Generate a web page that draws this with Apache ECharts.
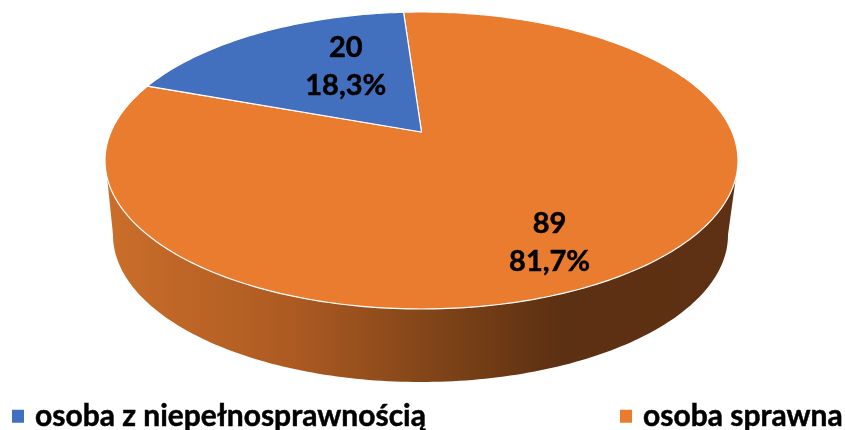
<!DOCTYPE html>
<html>
<head>
    <meta charset="utf-8">
    <title>ECharts</title>
    <script src="https://cdn.jsdelivr.net/npm/echarts@6/dist/echarts.min.js"></script>
    <style>
        html, body { margin: 0; padding: 0; background: #fff; }
    </style>
</head>
<body>
    <div id="main" style="width: 845px;height:430px;"></div>
    <script type="text/javascript">
        var categories = ['osoba z niepełnosprawnością', 'osoba sprawna'];
        var values = [20, 89];
        var colors = ['#4270BF', '#EA7C30'];

        var total = values[0] + values[1];
        var firstSliceAngle = 290;   // clockwise from top, like the office chart setting

        // top and bottom face of the disc
        var topFace = { cx: 421.5, cy: 160.5, rx: 316.5, ry: 148.5 };
        var bottomFace = { cx: 420.5, cy: 235, rx: 307.5, ry: 147 };
        // perspective: the pie centre sits above the middle of the ellipse
        var tilt = -0.192;

        // label place inside each slice: fraction of radius, shift in degrees from mid angle
        var labelRadius = [0.57, 0.765];
        var labelShift = 9;

        function project(face, deg, r) {
            var t = deg * Math.PI / 180;
            var u = r * Math.sin(t);
            var v = -r * Math.cos(t);
            var w = 1 + tilt * v;
            return [
                face.cx + face.rx * u * Math.sqrt(1 - tilt * tilt) / w,
                face.cy + face.ry * (v + tilt) / w
            ];
        }

        function arc(face, from, to) {
            var pts = [];
            var n = Math.max(2, Math.ceil(Math.abs(to - from)));
            for (var i = 0; i <= n; i++) {
                pts.push(project(face, from + (to - from) * i / n, 1));
            }
            return pts;
        }

        function sliceStart(index) {
            var sum = 0;
            for (var i = 0; i < index; i++) sum += values[i];
            return firstSliceAngle + sum / total * 360;
        }

        function sideOf(from, to) {
            // the wall is only seen on the front of the disc
            var topFront = [107.6, 252.4];
            var bottomFront = [101, 259];
            for (var k = -1; k <= 2; k++) {
                var a = Math.max(from, bottomFront[0] + k * 360);
                var b = Math.min(to, bottomFront[1] + k * 360);
                if (b > a) {
                    var a2 = Math.max(from, topFront[0] + k * 360);
                    var b2 = Math.min(to, topFront[1] + k * 360);
                    return arc(topFace, a2, b2).concat(arc(bottomFace, b, a));
                }
            }
            return null;
        }

        var sideGradient = {
            type: 'linear', x: 105, y: 0, x2: 738, y2: 0, global: true,
            colorStops: [
                { offset: 0, color: '#CB6E2A' },
                { offset: 0.3, color: '#AC5A22' },
                { offset: 0.5, color: '#844619' },
                { offset: 0.72, color: '#5C3012' },
                { offset: 1, color: '#5F3114' }
            ]
        };

        function renderSlice(index) {
            return function (params, api) {
                var value = api.value(0);
                var from = sliceStart(index);
                var to = from + value / total * 360;
                var mid = (from + to) / 2 + labelShift;
                var labelAt = project(topFace, mid, labelRadius[index]);
                var pct = (value / total * 100).toFixed(1).replace('.', ',');
                var children = [];
                var side = sideOf(from, to);
                if (side) {
                    children.push({
                        type: 'polygon',
                        shape: { points: side },
                        style: { fill: sideGradient }
                    });
                }
                children.push({
                    type: 'polygon',
                    shape: { points: [project(topFace, 0, 0)].concat(arc(topFace, from, to)) },
                    style: { fill: colors[index], stroke: '#fff', lineWidth: 1.2, lineJoin: 'round' }
                });
                children.push({
                    type: 'text',
                    style: {
                        x: labelAt[0],
                        y: labelAt[1],
                        text: value + '\n' + pct + '%',
                        fill: '#000',
                        stroke: '#000',
                        lineWidth: 0.5,
                        font: 'bold 29px Lato',
                        lineHeight: 38,
                        align: 'center',
                        verticalAlign: 'middle'
                    }
                });
                return { type: 'group', children: children };
            };
        }

        var myChart = echarts.init(document.getElementById('main'));

        var legendText = {
            fontFamily: 'Lato', fontWeight: 'bold', fontSize: 30, color: '#000',
            textBorderColor: '#000', textBorderWidth: 0.5, padding: [0, 0, 0, 6]
        };

        var option = {
            animation: false,
            color: colors,
            legend: [
                { left: 12, top: 401, icon: 'rect', itemWidth: 12, itemHeight: 13, padding: 0, selectedMode: false, textStyle: legendText, data: [categories[0]] },
                { left: 620, top: 401, icon: 'rect', itemWidth: 12, itemHeight: 13, padding: 0, selectedMode: false, textStyle: legendText, data: [categories[1]] }
            ],
            series: categories.map(function (name, i) {
                return {
                    type: 'custom',
                    name: name,
                    coordinateSystem: 'none',
                    z: i === 0 ? 3 : 2,
                    silent: true,
                    renderItem: renderSlice(i),
                    data: [[values[i]]]
                };
            })
        };

        myChart.setOption(option);
    </script>
</body>
</html>
